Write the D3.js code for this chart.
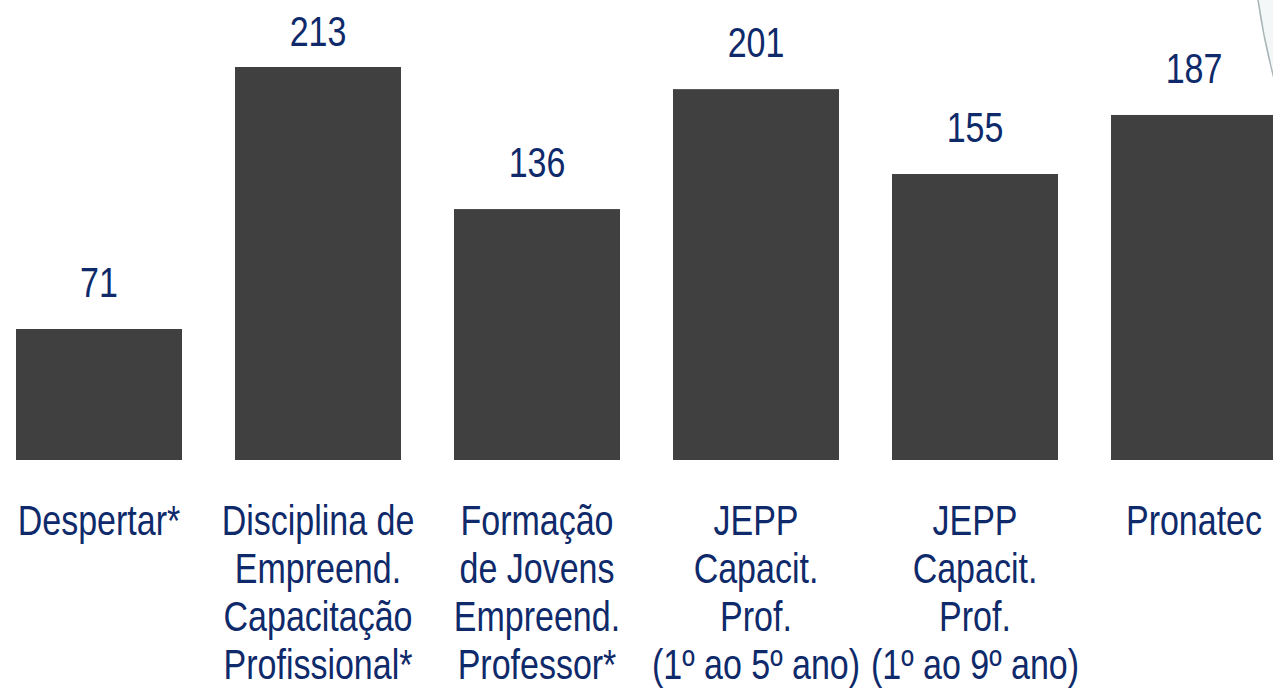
<!DOCTYPE html>
<html>
<head>
<meta charset="utf-8">
<script src="https://cdnjs.cloudflare.com/ajax/libs/d3/7.8.5/d3.min.js"></script>
<style>
    html, body { margin: 0; padding: 0; background: #fff; overflow: hidden; }
    svg { display: block; }
</style>
</head>
<body>
<svg id="chart"></svg>
<script>
const categories = [
    ['Despertar*'],
    ['Disciplina de', 'Empreend.', 'Capacitação', 'Profissional*'],
    ['Formação', 'de Jovens', 'Empreend.', 'Professor*'],
    ['JEPP', 'Capacit.', 'Prof.', '(1º ao 5º ano)'],
    ['JEPP', 'Capacit.', 'Prof.', '(1º ao 9º ano)'],
    ['Pronatec']
];
const values = [71, 213, 136, 201, 155, 187];

let width = 1273,
    height = 692,
    baseline = 460,
    textColor = '#0f2a6a',
    barColor = '#404040',
    stretch = 1.25; // the original text is drawn taller than it is wide

let svg = d3.select('#chart')
    .attr('width', width)
    .attr('height', height);

// faint decorative sphere from the slide background, top right corner
let grad = svg.append('defs').append('radialGradient')
    .attr('id', 'sphere')
    .attr('cx', '0.3').attr('cy', '0.6').attr('r', '0.7');
grad.append('stop').attr('offset', '0.9').attr('stop-color', '#f4f7f7');
grad.append('stop').attr('offset', '1').attr('stop-color', '#dfe7e8');

svg.append('circle')
    .attr('cx', 1953)
    .attr('cy', -100)
    .attr('r', 702)
    .attr('fill', 'url(#sphere)')
    .attr('stroke', '#a9b6b8')
    .attr('stroke-width', 1.5);

let x = d3.scaleBand()
    .domain(d3.range(categories.length))
    .range([-10.5, 1303.5])
    .paddingInner(0.242)
    .paddingOuter(0.121);

let y = d3.scaleLinear()
    .domain([0, 213])
    .range([baseline, 67]);

let g = svg.append('g');

g.selectAll('rect.bar')
    .data(values)
    .enter()
    .append('rect')
    .classed('bar', true)
    .attr('x', function(d, i) { return x(i); })
    .attr('y', function(d) { return y(d); })
    .attr('width', x.bandwidth())
    .attr('height', function(d) { return y(0) - y(d); })
    .attr('fill', barColor);

// value labels sit above the bars, but never higher than the top margin
g.selectAll('text.value')
    .data(values)
    .enter()
    .append('text')
    .classed('value', true)
    .attr('transform', function(d, i) {
        let ty = Math.max(46, y(d) - 32);
        return 'translate(' + (x(i) + x.bandwidth() / 2) + ',' + ty + ') scale(1,' + stretch + ')';
    })
    .attr('text-anchor', 'middle')
    .attr('font-family', '"Liberation Sans", Arial, sans-serif')
    .attr('font-size', '34px')
    .attr('fill', textColor)
    .text(function(d) { return d; });

let labels = g.selectAll('text.cat')
    .data(categories)
    .enter()
    .append('text')
    .classed('cat', true)
    .attr('transform', function(d, i) {
        return 'translate(' + (x(i) + x.bandwidth() / 2) + ',535) scale(1,' + stretch + ')';
    })
    .attr('text-anchor', 'middle')
    .attr('font-family', '"Liberation Sans", Arial, sans-serif')
    .attr('font-size', '34px')
    .attr('fill', textColor);

labels.selectAll('tspan')
    .data(function(d) { return d; })
    .enter()
    .append('tspan')
    .attr('x', 0)
    .attr('dy', function(d, i) { return i === 0 ? 0 : 48 / stretch; })
    .text(function(d) { return d; });
</script>
</body>
</html>
